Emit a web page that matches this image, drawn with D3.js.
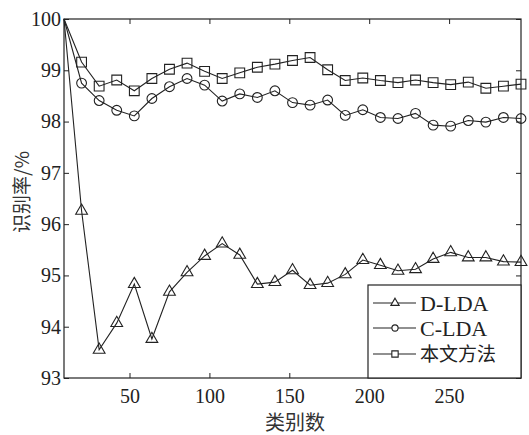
<!DOCTYPE html>
<html><head><meta charset="utf-8">
<script src="https://cdn.jsdelivr.net/npm/d3@7/dist/d3.min.js"></script>
<style>
body{margin:0;background:#fff}svg{display:block}
svg text.num{font-family:'Liberation Serif','Times New Roman',serif !important;}
svg text.cjk{font-family:'Noto Sans CJK SC',sans-serif !important;}
</style>
</head><body>
<script>
const classes = [9,20,31,42,53,64,75,86,97,108,119,130,141,152,163,174,185,196,207,218,229,240,251,262,273,284,295];
const dlda = [100,96.26,93.55,94.07,94.83,93.76,94.68,95.06,95.38,95.62,95.40,94.83,94.87,95.10,94.81,94.85,95.02,95.30,95.20,95.09,95.12,95.32,95.45,95.35,95.35,95.27,95.26];
const clda = [100,98.75,98.41,98.22,98.11,98.45,98.68,98.84,98.71,98.40,98.54,98.47,98.60,98.37,98.32,98.42,98.12,98.23,98.08,98.06,98.16,97.93,97.91,98.02,97.99,98.08,98.06];
const ours = [100,99.16,98.69,98.81,98.60,98.84,99.02,99.14,98.98,98.84,98.95,99.06,99.12,99.19,99.25,99.01,98.80,98.85,98.80,98.76,98.81,98.76,98.72,98.77,98.65,98.69,98.73];
const seriesNames = ["D-LDA","C-LDA","本文方法"];
const xTicks = [50,100,150,200,250];
const yTicks = [93,94,95,96,97,98,99,100];

const W=529,H=435;
const L=64,R=521,T=19,B=378;
const svg=d3.select("body").append("svg").attr("width",W).attr("height",H);
const x=d3.scaleLinear().domain([9,295]).range([L,R]);
const y=d3.scaleLinear().domain([93,100]).range([B,T]);
const ink="#222";
const serif="Liberation Serif";
const cjk="Noto Sans CJK SC";

svg.append("rect").attr("x",L).attr("y",T).attr("width",R-L).attr("height",B-T)
  .attr("fill","none").attr("stroke",ink).attr("stroke-width",1.2);

const ax=(g)=>g.attr("font-family",serif).attr("font-size",20).selectAll(".domain").remove();
const txt=(g)=>g.selectAll("text").attr("class","num").attr("font-family",serif).attr("font-size",20).attr("fill",ink);
svg.append("g").attr("transform",`translate(0,${B})`)
  .call(d3.axisBottom(x).tickValues(xTicks).tickSize(-5).tickPadding(11).tickFormat(d3.format("d")))
  .call(ax).call(g=>{g.selectAll("line").attr("stroke",ink);}).call(txt);
svg.append("g").attr("transform",`translate(0,${T})`)
  .call(d3.axisTop(x).tickValues(xTicks).tickSize(-5).tickFormat(""))
  .call(ax).call(g=>g.selectAll("line").attr("stroke",ink));
svg.append("g").attr("transform",`translate(${L},0)`)
  .call(d3.axisLeft(y).tickValues(yTicks).tickSize(-5).tickPadding(3).tickFormat(d3.format("d")))
  .call(ax).call(g=>{g.selectAll("line").attr("stroke",ink);}).call(txt);
svg.append("g").attr("transform",`translate(${R},0)`)
  .call(d3.axisRight(y).tickValues(yTicks).tickSize(-5).tickFormat(""))
  .call(ax).call(g=>g.selectAll("line").attr("stroke",ink));

svg.append("text").attr("class","cjk").attr("x",295).attr("y",430).attr("text-anchor","middle")
  .attr("font-family",cjk).attr("font-size",20).attr("fill","#333").text("类别数");
svg.append("text").attr("class","cjk").attr("transform","translate(29,192) rotate(-90)").attr("text-anchor","middle")
  .attr("font-family",cjk).attr("font-size",19).attr("fill","#333").text("识别率/%");

const data=[dlda,clda,ours];
const shapes=[d3.symbolTriangle,d3.symbolCircle,d3.symbolSquare];
const sizes=[60,75,95];
const line=d3.line().x((d,i)=>x(classes[i])).y(d=>y(d));
data.forEach((s,k)=>{
  svg.append("path").datum(s).attr("d",line).attr("fill","none").attr("stroke",ink).attr("stroke-width",1.1);
  svg.append("g").selectAll("path").data(s.slice(1)).join("path")
    .attr("transform",(d,i)=>`translate(${x(classes[i+1])},${y(d)})`)
    .attr("d",d3.symbol(shapes[k],sizes[k]))
    .attr("fill","none").attr("stroke",ink).attr("stroke-width",1.1);
});

const lg=svg.append("g");
lg.append("rect").attr("x",368).attr("y",285).attr("width",R-368).attr("height",B-285)
  .attr("fill","#fff").attr("stroke",ink).attr("stroke-width",1.2);
const rowsY=[303,328,354];
seriesNames.forEach((n,k)=>{
  lg.append("line").attr("x1",373).attr("x2",416).attr("y1",rowsY[k]).attr("y2",rowsY[k]).attr("stroke",ink).attr("stroke-width",1.1);
  lg.append("path").attr("transform",`translate(395,${rowsY[k]})`).attr("d",d3.symbol(shapes[k],[30,30,40][k]))
    .attr("fill","#fff").attr("stroke",ink).attr("stroke-width",1.1);
  lg.append("text").attr("class",k<2?"num":"cjk").attr("x",420).attr("y",rowsY[k]).attr("dy","0.35em")
    .attr("font-family",k<2?serif:cjk).attr("font-size",k<2?22:19).attr("fill",ink).text(n);
});
</script>
</body></html>
